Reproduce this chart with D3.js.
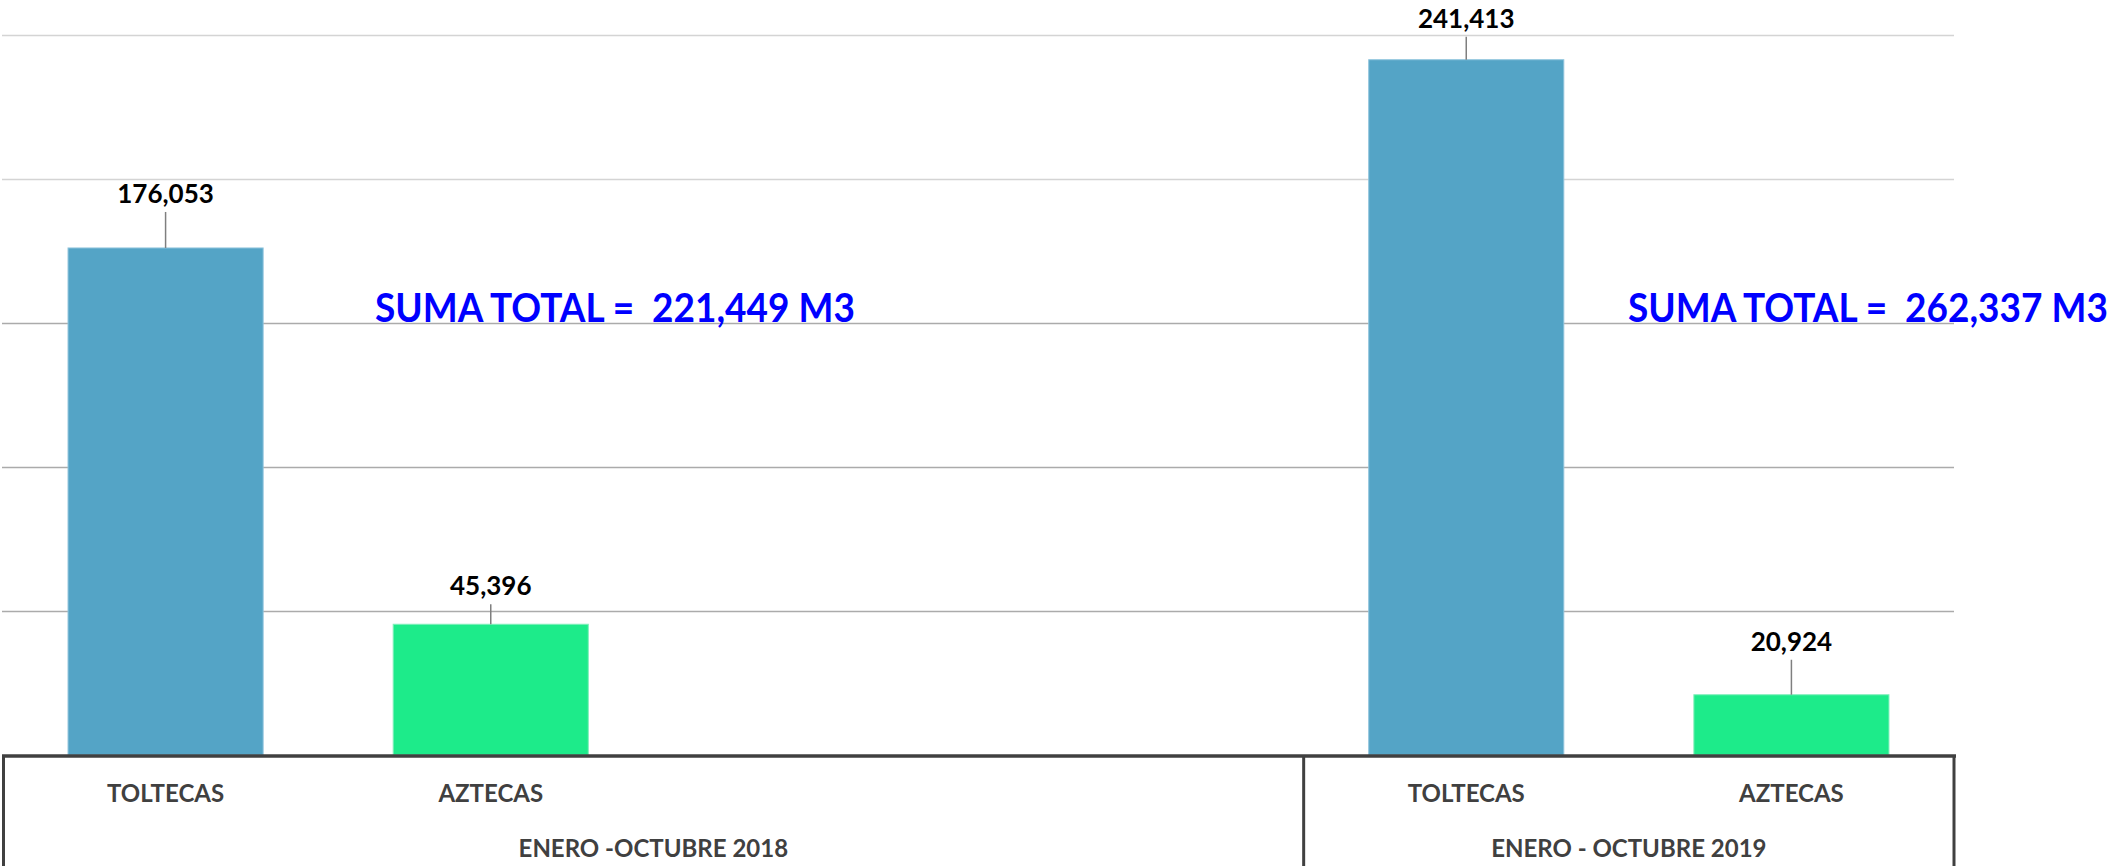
<!DOCTYPE html>
<html>
<head>
<meta charset="utf-8">
<script src="https://cdn.jsdelivr.net/npm/d3@7"></script>
<style>
  body { margin: 0; background: #fff; }
  svg { display: block; font-family: Lato, "Noto Sans", sans-serif; }
</style>
</head>
<body>
<div id="chart"></div>
<script>
// data
var periods = ["ENERO -OCTUBRE 2018", "ENERO - OCTUBRE 2019"];
var slotsPerPeriod = [4, 2];           // 2018 group has two empty slots
var tribes = ["TOLTECAS", "AZTECAS"];
var values2018 = [176053, 45396];
var values2019 = [241413, 20924];
var gridTicks = [50000, 100000, 150000, 200000, 250000];

// leader line lengths above each bar (2018 T, 2018 A, 2019 T, 2019 A)
var leaderLen = [36, 20, 23, 35];

var width = 2123, height = 866;
var baseY = 755;
var colors = { TOLTECAS: "#54a4c6", AZTECAS: "#1deb8a" };
var edge = { TOLTECAS: "#8fc4dc", AZTECAS: "#80efbb" };

// build slot list
var slots = [];
var bars = [];
var allValues = [values2018, values2019];
periods.forEach(function(p, pi) {
  for (var s = 0; s < slotsPerPeriod[pi]; s++) {
    var key = pi + "|" + s;
    slots.push({ key: key, period: pi, tribe: tribes[s] || "" });
    if (s < tribes.length) {
      bars.push({ key: key, period: pi, tribe: tribes[s], value: allValues[pi][s] });
    }
  }
});
bars.forEach(function(d, i) { d.lead = leaderLen[i]; });

var svg = d3.select("#chart").append("svg")
  .attr("width", width)
  .attr("height", height);

var x = d3.scaleBand()
  .domain(slots.map(function(d) { return d.key; }))
  .range([3, 1954])
  .paddingInner(0.4)
  .paddingOuter(0.2);

var y = d3.scaleLinear()
  .domain([0, 250000])
  .range([baseY, 35]);

var fmt = d3.format(",");
var half = x.step() * x.paddingInner() / 2;

// gridlines
svg.append("g").selectAll("line")
  .data(gridTicks)
  .enter().append("line")
    .attr("x1", 2)
    .attr("x2", 1954)
    .attr("y1", function(d) { return Math.round(y(d)) + 0.5; })
    .attr("y2", function(d) { return Math.round(y(d)) + 0.5; })
    .attr("stroke", function(d) { return d >= 200000 ? "#d4d4d4" : "#ababab"; })
    .attr("stroke-width", 1.5);

// bars
svg.append("g").selectAll("rect")
  .data(bars)
  .enter().append("rect")
    .attr("x", function(d) { return x(d.key); })
    .attr("width", x.bandwidth())
    .attr("y", function(d) { return y(d.value); })
    .attr("height", function(d) { return baseY - y(d.value); })
    .style("fill", function(d) { return colors[d.tribe]; })
    .style("stroke", function(d) { return edge[d.tribe]; })
    .style("stroke-width", 1);

// leader lines + value labels
var lab = svg.append("g").selectAll("g")
  .data(bars)
  .enter().append("g");

lab.append("line")
  .attr("x1", function(d) { return x(d.key) + x.bandwidth() / 2; })
  .attr("x2", function(d) { return x(d.key) + x.bandwidth() / 2; })
  .attr("y1", function(d) { return y(d.value); })
  .attr("y2", function(d) { return y(d.value) - d.lead; })
  .attr("stroke", "#7f7f7f")
  .attr("stroke-width", 1.5);

lab.append("text")
  .attr("x", function(d) { return x(d.key) + x.bandwidth() / 2; })
  .attr("y", function(d) { return y(d.value) - d.lead - 9; })
  .attr("text-anchor", "middle")
  .style("font-size", "26px")
  .style("font-weight", "bold")
  .style("fill", "#000")
  .text(function(d) { return fmt(d.value); });

// totals (squeezed horizontally to look like the narrow original font)
var totalPos = [[375, 322], [1628, 322]];
var totalWidth = 480;
svg.append("g").selectAll("text")
  .data(periods)
  .enter().append("text")
    .style("font-size", "40px")
    .style("font-weight", "bold")
    .style("fill", "#0000ff")
    .style("white-space", "pre")
    .text(function(d, i) { return "SUMA TOTAL =  " + fmt(d3.sum(allValues[i])) + " M3"; })
    .attr("transform", function(d, i) {
      var sx = Math.min(1, totalWidth / this.getComputedTextLength());
      return "translate(" + totalPos[i][0] + "," + totalPos[i][1] + ") scale(" + sx + ",1)";
    });

// category axis: base line, dividers, labels
svg.append("line")
  .attr("x1", 2).attr("x2", 1956)
  .attr("y1", baseY + 1).attr("y2", baseY + 1)
  .attr("stroke", "#404040")
  .attr("stroke-width", 3.5);

var bounds = [];
var idx = 0;
slotsPerPeriod.forEach(function(n) {
  bounds.push(x(slots[idx].key) - half);
  idx += n;
});
bounds.push(x(slots[slots.length - 1].key) + x.bandwidth() + half);

svg.append("g").selectAll("line")
  .data(bounds)
  .enter().append("line")
    .attr("x1", function(d) { return Math.max(d, 3.5); })
    .attr("x2", function(d) { return Math.max(d, 3.5); })
    .attr("y1", baseY)
    .attr("y2", height)
    .attr("stroke", "#404040")
    .attr("stroke-width", 3);

svg.append("g").selectAll("text")
  .data(slots.filter(function(d) { return d.tribe; }))
  .enter().append("text")
    .attr("x", function(d) { return x(d.key) + x.bandwidth() / 2; })
    .attr("y", 802)
    .attr("text-anchor", "middle")
    .style("font-size", "24px")
    .style("font-weight", "bold")
    .style("fill", "#404040")
    .text(function(d) { return d.tribe; });

svg.append("g").selectAll("text")
  .data(periods)
  .enter().append("text")
    .attr("x", function(d, i) { return (bounds[i] + bounds[i + 1]) / 2; })
    .attr("y", 857)
    .attr("text-anchor", "middle")
    .style("font-size", "24px")
    .style("font-weight", "bold")
    .style("fill", "#404040")
    .text(function(d) { return d; });
</script>
</body>
</html>
